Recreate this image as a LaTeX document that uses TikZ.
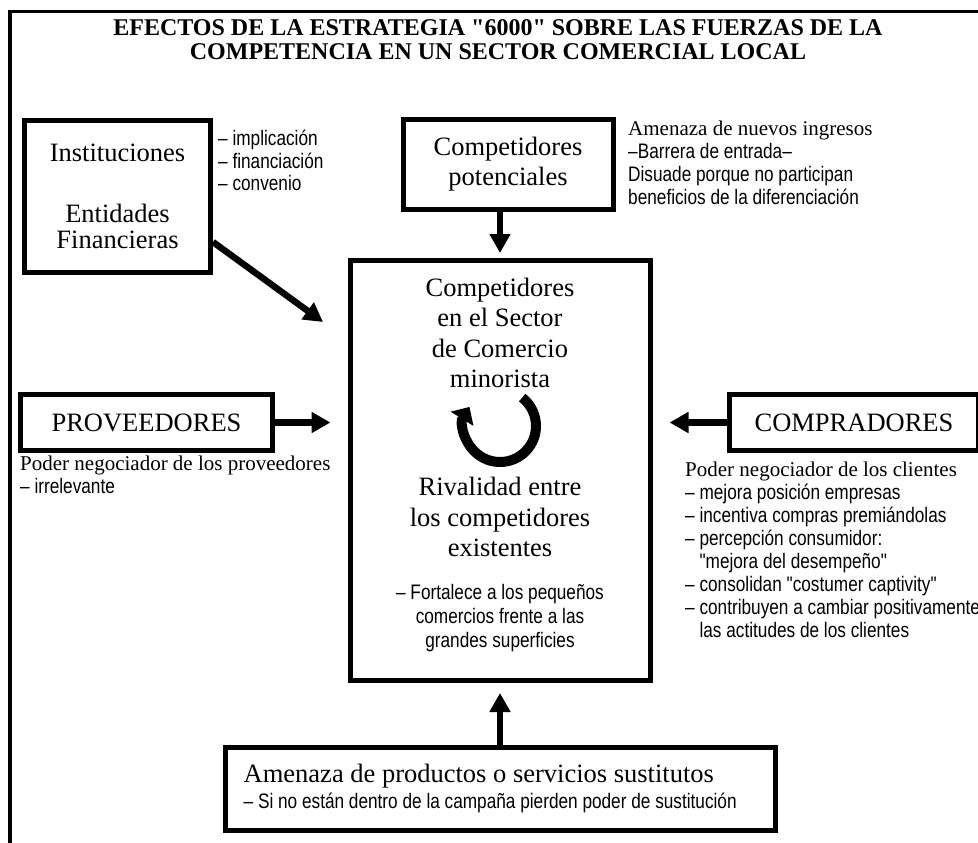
\documentclass[tikz,border=0pt]{standalone}
\usepackage{fontspec}
\setmainfont{Liberation Serif}
\newfontfamily\titlefont{Liberation Serif}
\newfontfamily\narrowsf[FakeStretch=0.82]{Liberation Sans}
\usetikzlibrary{arrows.meta,calc}

\begin{document}
\begin{tikzpicture}[x=1pt,y=-1pt,
  box/.style={draw,line width=5pt,inner sep=0pt,align=center,font=\fontsize{26.5}{30}\selectfont},
  big/.style={inner sep=0pt,align=center,font=\fontsize{26.5}{30.5}\selectfont},
  sfnote/.style={inner sep=0pt,align=left,font=\narrowsf\fontsize{21}{24}\selectfont},
  force/.style={line width=6.5pt,-{Triangle[length=19pt,width=20pt]}}]
\useasboundingbox (0,0) rectangle (978,843);
\draw[line width=3.3pt] (10,843) -- (10,11.7) -- (978,11.7);

% titulo
\node[inner sep=0pt,align=center,font=\titlefont\bfseries\fontsize{24}{24}\selectfont] (title) at (498,40)
  {EFECTOS DE LA ESTRATEGIA "6000" SOBRE LAS FUERZAS DE LA\\COMPETENCIA EN UN SECTOR COMERCIAL LOCAL};

% las cinco fuerzas
\node[box,minimum width=186pt,minimum height=152pt] (inst) at (117.5,196.5)
  {Instituciones\\[31pt]Entidades\\[-4pt]Financieras};
\node[box,minimum width=210pt,minimum height=90pt] (pot) at (508,164.5) {Competidores\\potenciales};
\node[box,minimum width=300pt,minimum height=420pt] (ctr) at (500,470.5) {};
\node[box,minimum width=252pt,minimum height=56pt] (prov) at (146.5,422.5) {PROVEEDORES};
\node[box,minimum width=249pt,minimum height=56pt] (comp) at (854,422.5) {COMPRADORES};
\node[box,minimum width=550pt,minimum height=83pt] (subst) at (500,788.5) {};

% textos del sector
\node[big] (sector) at (500,333) {Competidores\\en el Sector\\de Comercio\\minorista};
\node[big] (rival) at (500,517) {Rivalidad entre\\los competidores\\existentes};
\node[sfnote,align=center] (fort) at (500,618) {– Fortalece a los pequeños\\comercios frente a las\\grandes superficies};
\coordinate (loopc) at (500,426);
\draw[line width=10pt,-{Triangle[length=14pt,width=26pt]}] ($(loopc)+(-52:36)$) arc[start angle=-52,end angle=212,radius=36];

% notas
\node[sfnote,anchor=north west,font=\narrowsf\fontsize{21}{22.5}\selectfont] (instnote) at (218,130)
  {– implicación\\– financiación\\– convenio};
\node[sfnote,anchor=north west,font=\narrowsf\fontsize{21}{23}\selectfont] (potnote) at (628,121)
  {{\rmfamily Amenaza de nuevos ingresos}\\–Barrera de entrada–\\Disuade porque no participan\\beneficios de la diferenciación};
\node[sfnote,anchor=north west,font=\narrowsf\fontsize{21}{23}\selectfont] (provnote) at (20,456)
  {{\rmfamily Poder negociador de los proveedores}\\– irrelevante};
\node[sfnote,anchor=north west,font=\narrowsf\fontsize{21}{23}\selectfont] (compnote) at (685,462)
  {{\rmfamily Poder negociador de los clientes}\\– mejora posición empresas\\– incentiva compras premiándolas\\– percepción consumidor:\\\phantom{– }"mejora del desempeño"\\– consolidan "costumer captivity"\\– contribuyen a cambiar positivamente\\\phantom{– }las actitudes de los clientes};
\node[big,anchor=west,align=left] (substtxt) at ($(subst.west)+(21,0)$)
  {Amenaza de productos o servicios sustitutos\\[-4pt]{\narrowsf\fontsize{21}{24}\selectfont – Si no están dentro de la campaña pierden poder de sustitución}};

% flechas
\coordinate (insttip) at (323,322);
\draw[force] ($(inst.south east)+(0,-33)$) -- (insttip);
\draw[force,shorten >=5pt] (pot.south -| ctr) -- (ctr.north);
\draw[force,shorten >=17pt] (prov) -- (prov -| ctr.west);
\draw[force,shorten >=17pt] (comp) -- (comp -| ctr.east);
\draw[force,shorten >=10pt] (subst) -- (ctr.south);
\end{tikzpicture}
\end{document}
